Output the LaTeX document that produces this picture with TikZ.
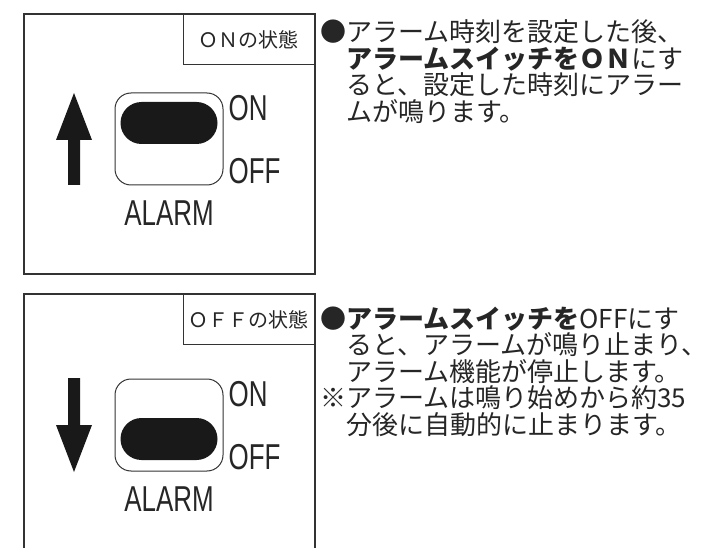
\documentclass[tikz,border=0pt]{standalone}
\usepackage{fontspec}
\newfontfamily\jfont{Noto Sans CJK JP}
\newfontfamily\narrowfont[FakeStretch=0.72]{Liberation Sans}
\usetikzlibrary{positioning}
\usetikzlibrary{shapes.misc}
\tikzset{
  panel/.style={draw=black!80,line width=1.3pt},
  tagbox/.style={draw=black!80,line width=1.1pt,minimum width=131pt,minimum height=50pt,
    inner sep=0pt,font=\jfont\fontsize{20}{20}\selectfont,text=black!85},
  switchcase/.style={draw=black!80,line width=1pt,rounded corners=16pt,
    minimum width=108pt,minimum height=92pt,inner sep=0pt},
  knob/.style={rounded rectangle,fill=black!90,minimum width=97pt,minimum height=42pt,inner sep=0pt},
  lbl/.style={font=\narrowfont\fontsize{36}{36}\selectfont,text=black!85,inner sep=0pt},
  note/.style={font=\jfont\fontsize{26}{26.5}\selectfont,align=left,inner sep=0pt,
    anchor=base west,text=black!85},
}

\begin{document}
\begin{tikzpicture}[x=1pt,y=-1pt]
  \useasboundingbox[fill=white] (0,0) rectangle (707,548);

  % ON state
  \draw[panel] (24,14) rectangle (315,274);
  \coordinate (p1) at (315,14);
  \node[tagbox,anchor=north east] (tag1) at (p1) {ＯＮの状態};
  \fill[black!90] (74,93) -- (92,140) -- (80,140) -- (80,185) -- (68,185) -- (68,140) -- (56,140) -- cycle;
  \node[switchcase] (sw1) at (169,139) {};
  \node[knob] (knob1) at ([yshift=16pt]sw1.center) {};
  \node[lbl,anchor=north west] (on1) at ([xshift=5pt,yshift=-3pt]sw1.north east) {ON};
  \node[lbl,anchor=south west] (off1) at ([xshift=5pt,yshift=1pt]sw1.south east) {OFF};
  \node[lbl,below=15pt of sw1] (alarm1) {ALARM};
  % base of the last line
  \node[note] (text1) at (320,121.5) {●アラーム時刻を設定した後、\\
    　{\bfseries アラームスイッチをＯＮ}にす\\
    　ると、設定した時刻にアラー\\
    　ムが鳴ります。};

  % OFF state
  \draw[panel] (24,548) -- (24,294) -- (315,294) -- (315,548);
  \coordinate (p2) at (315,294);
  \node[tagbox,anchor=north east] (tag2) at (p2) {ＯＦＦの状態};
  \fill[black!90] (74,472) -- (92,425) -- (80,425) -- (80,378) -- (68,378) -- (68,425) -- (56,425) -- cycle;
  \node[switchcase] (sw2) at (169,425) {};
  \node[knob] (knob2) at ([yshift=-14pt]sw2.center) {};
  \node[lbl,anchor=north west] (on2) at ([xshift=5pt,yshift=-3pt]sw2.north east) {ON};
  \node[lbl,anchor=south west] (off2) at ([xshift=5pt,yshift=1pt]sw2.south east) {OFF};
  \node[lbl,below=15pt of sw2] (alarm2) {ALARM};
  \node[note] (text2) at (320,434) {●{\bfseries アラームスイッチを}OFFにす\\
    　ると、アラームが鳴り止まり、\\
    　アラーム機能が停止します。\\
    ※アラームは鳴り始めから約35\\
    　分後に自動的に止まります。};
\end{tikzpicture}
\end{document}
